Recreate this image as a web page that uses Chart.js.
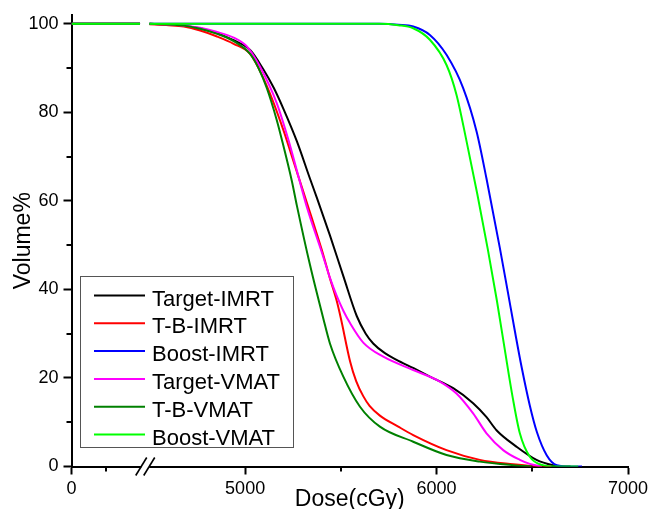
<!DOCTYPE html>
<html><head><meta charset="utf-8">
<script src="https://cdn.jsdelivr.net/npm/chart.js@4"></script>
<style>html,body{margin:0;padding:0;background:#fff}</style>
</head><body>
<canvas id="c" width="648" height="509"></canvas>
<script>
// ---------- data ----------
const SERIES_NAMES = ['Target-IMRT','T-B-IMRT','Boost-IMRT','Target-VMAT','T-B-VMAT','Boost-VMAT'];
const SERIES_COLORS = ['#000000','#ff0000','#0000ff','#ff00ff','#008000','#00ff00'];

const X_TICK_DOSES = [0, 5000, 6000, 7000];
const X_TICK_LABELS = ['0', '5000', '6000', '7000'];
const X_MINOR_DOSES = [500, 5500, 6500];
const Y_TICKS = [0, 20, 40, 60, 80, 100];
const Y_MINOR = [10, 30, 50, 70, 90];

const TARGET_IMRT_DOSE = [0,1000,4500,4680,4765,4850,4940,5026,5094,5150,5200,5270,5339,5374,5443,5513,5583,5630,5669,5730,5791,5880,5965,6087,6191,6260,6313,6417,6522,6608,6660,6700];
const TARGET_IMRT_VOL  = [100,100,100,99.6,99.0,97.9,96.3,94.1,89.8,85.5,80.8,73.5,65.0,60.8,52.2,43.0,34.0,30.0,27.8,25.6,24.1,22.2,20.3,17.7,14.3,11.2,8.2,4.5,1.5,0.3,0,0];

const TB_IMRT_DOSE = [0,1000,4500,4600,4680,4765,4850,4940,5026,5113,5200,5250,5300,5350,5400,5443,5478,5500,5548,5580,5617,5650,5704,5800,5878,6052,6226,6400,6500,6600];
const TB_IMRT_VOL  = [100,100,99.9,99.7,99.4,98.5,97.2,95.5,93.2,86.0,76.0,69.3,62.6,55.9,49.0,42.5,37.5,33.5,23.8,19.3,15.9,13.7,11.5,9.0,7.1,3.7,1.5,0.5,0.1,0];

const BOOST_IMRT_DOSE = [0,1000,4500,5700,5800,5878,5965,6052,6139,6209,6261,6330,6372,6409,6445,6487,6524,6576,6628,6700,6760];
const BOOST_IMRT_VOL  = [100,100,100,100,99.8,99.4,97.5,93.0,85.5,75.7,65.0,49.5,39.5,30.6,22.3,13.8,7.8,2.5,0.3,0,0];

const TARGET_VMAT_DOSE = [0,1000,4500,4680,4765,4850,4940,5009,5078,5165,5226,5278,5322,5408,5443,5478,5513,5548,5617,5722,5878,6017,6104,6191,6261,6348,6435,6487,6550];
const TARGET_VMAT_VOL  = [100,100,100,99.6,99.1,98.2,96.9,94.9,90.3,82.1,73.8,65.6,58.7,47.4,42.6,38.6,35.2,32.4,28.0,24.8,21.8,19.2,16.5,12.0,7.5,3.7,1.5,0.6,0];

const TB_VMAT_DOSE = [0,1000,4500,4680,4765,4850,4940,5026,5070,5113,5165,5191,5244,5270,5339,5408,5443,5513,5600,5704,5878,6052,6226,6400,6500];
const TB_VMAT_VOL  = [100,100,100,99.6,98.9,97.8,96.1,93.2,90.0,85.5,78.3,74.0,64.5,59.0,45.5,33.5,27.8,20.3,13.5,9.0,5.6,2.6,1.1,0.3,0];

const BOOST_VMAT_DOSE = [0,1000,4500,5700,5800,5878,5965,6052,6104,6157,6213,6268,6315,6356,6398,6435,6487,6555,6620,6740];
const BOOST_VMAT_VOL  = [100,100,100,100,99.7,99.0,96.4,90.7,84.0,73.4,61.5,49.0,37.5,26.5,15.5,7.5,2.2,0.3,0,0];

const SERIES_DOSE = [TARGET_IMRT_DOSE, TB_IMRT_DOSE, BOOST_IMRT_DOSE, TARGET_VMAT_DOSE, TB_VMAT_DOSE, BOOST_VMAT_DOSE];
const SERIES_VOL  = [TARGET_IMRT_VOL, TB_IMRT_VOL, BOOST_IMRT_VOL, TARGET_VMAT_VOL, TB_VMAT_VOL, BOOST_VMAT_VOL];

// ---------- broken axis mapping ----------
const LEFT_MAX = 1000;        // left segment 0..1000 cGy
const RIGHT_MIN = 4500;       // right segment starts at 4500 cGy
const AXIS_MIN = 4093;        // axis units at the y-axis
const LEFT_END_AXIS = 4451;   // axis units where left segment ends
function toAxis(d) {
  return d <= LEFT_MAX ? AXIS_MIN + d * (LEFT_END_AXIS - AXIS_MIN) / LEFT_MAX : d;
}

const datasets = SERIES_NAMES.map((name, i) => {
  const pts = [];
  const ds = SERIES_DOSE[i], vs = SERIES_VOL[i];
  for (let k = 0; k < ds.length; k++) {
    if (k > 0 && ds[k - 1] <= LEFT_MAX && ds[k] >= RIGHT_MIN) {
      pts.push({x: (LEFT_END_AXIS + RIGHT_MIN) / 2, y: null});
    }
    pts.push({x: toAxis(ds[k]), y: vs[k]});
  }
  return {
    label: name, data: pts, borderColor: SERIES_COLORS[i], backgroundColor: SERIES_COLORS[i],
    borderWidth: 2, pointRadius: 0, fill: false, spanGaps: false,
    cubicInterpolationMode: 'monotone', order: SERIES_NAMES.length - i
  };
});

const FONT = 'Liberation Sans, Arial, sans-serif';

const decorPlugin = {
  id: 'decor',
  afterDraw(chart) {
    const ctx = chart.ctx, xs = chart.scales.x, ys = chart.scales.y, ca = chart.chartArea;
    ctx.save();
    ctx.strokeStyle = '#000'; ctx.lineWidth = 2;
    // minor ticks
    X_MINOR_DOSES.forEach(d => {
      const px = Math.round(xs.getPixelForValue(toAxis(d)));
      ctx.beginPath(); ctx.moveTo(px, ca.bottom); ctx.lineTo(px, ca.bottom + 5); ctx.stroke();
    });
    Y_MINOR.forEach(v => {
      const py = Math.round(ys.getPixelForValue(v));
      ctx.beginPath(); ctx.moveTo(ca.left, py); ctx.lineTo(ca.left - 5, py); ctx.stroke();
    });
    // axis break
    const cx = (xs.getPixelForValue(LEFT_END_AXIS) + xs.getPixelForValue(RIGHT_MIN)) / 2 + 0.5;
    const y0 = ca.bottom;
    ctx.fillStyle = '#fff';
    ctx.fillRect(cx - 4, y0 - 2, 8, 4);
    ctx.lineWidth = 1.6;
    [-4, 4].forEach(dx => {
      ctx.beginPath();
      ctx.moveTo(cx + dx - 5.5, y0 + 9);
      ctx.lineTo(cx + dx + 5.5, y0 - 9);
      ctx.stroke();
    });
    // legend
    const bx = ca.left + 8.5, by = ca.top + 261, bw = 213, bh = 171;
    ctx.fillStyle = '#fff';
    ctx.fillRect(bx, by, bw, bh);
    ctx.lineWidth = 1; ctx.strokeStyle = '#555';
    ctx.strokeRect(bx + 0.5, by + 0.5, bw, bh);
    ctx.font = '22px ' + FONT;
    ctx.textBaseline = 'alphabetic'; ctx.textAlign = 'left';
    chart.data.datasets.forEach((d, i) => {
      const ly = by + 19.5 + i * 27.8;
      ctx.strokeStyle = d.borderColor; ctx.lineWidth = 2;
      ctx.beginPath(); ctx.moveTo(bx + 14, ly); ctx.lineTo(bx + 65, ly); ctx.stroke();
      ctx.fillStyle = '#000';
      ctx.fillText(d.label, bx + 72, ly + 10);
    });
    ctx.restore();
  }
};

new Chart(document.getElementById('c'), {
  type: 'line',
  data: { datasets },
  options: {
    responsive: false, animation: false, devicePixelRatio: 1,
    layout: { padding: { left: 0, top: 15, right: 20, bottom: 0 } },
    plugins: { legend: { display: false }, tooltip: { enabled: false } },
    elements: { point: { radius: 0 } },
    scales: {
      x: {
        type: 'linear', min: AXIS_MIN, max: 7000,
        afterBuildTicks: s => { s.ticks = X_TICK_DOSES.map(d => ({ value: toAxis(d) })); },
        afterFit: s => { s.height = 42.5; s.paddingLeft = 0; s.paddingRight = 0; },
        ticks: { autoSkip: false, maxRotation: 0, color: '#000', padding: 4,
                 font: { family: FONT, size: 18 },
                 callback: (v, i) => X_TICK_LABELS[i] },
        grid: { drawOnChartArea: false, drawTicks: true, tickLength: 8, tickColor: '#000', tickWidth: 2 },
        border: { display: true, color: '#000', width: 2 },
        title: { display: true, text: 'Dose(cGy)', color: '#000',
                 font: { family: FONT, size: 23, lineHeight: 0.8 }, padding: { top: 0, bottom: 0 } }
      },
      y: {
        type: 'linear', min: 0, max: 102,
        afterBuildTicks: s => { s.ticks = Y_TICKS.map(v => ({ value: v })); },
        afterFit: s => { s.width = 71.5; s.paddingTop = 0; s.paddingBottom = 0; },
        ticks: { color: '#000', padding: 5, font: { family: FONT, size: 18 } },
        grid: { drawOnChartArea: false, drawTicks: true, tickLength: 8, tickColor: '#000', tickWidth: 2 },
        border: { display: true, color: '#000', width: 2 },
        title: { display: true, text: 'Volume%', color: '#000',
                 font: { family: FONT, size: 23, lineHeight: 1 }, padding: { top: 12, bottom: 0 } }
      }
    }
  },
  plugins: [decorPlugin]
});
</script>
</body></html>
